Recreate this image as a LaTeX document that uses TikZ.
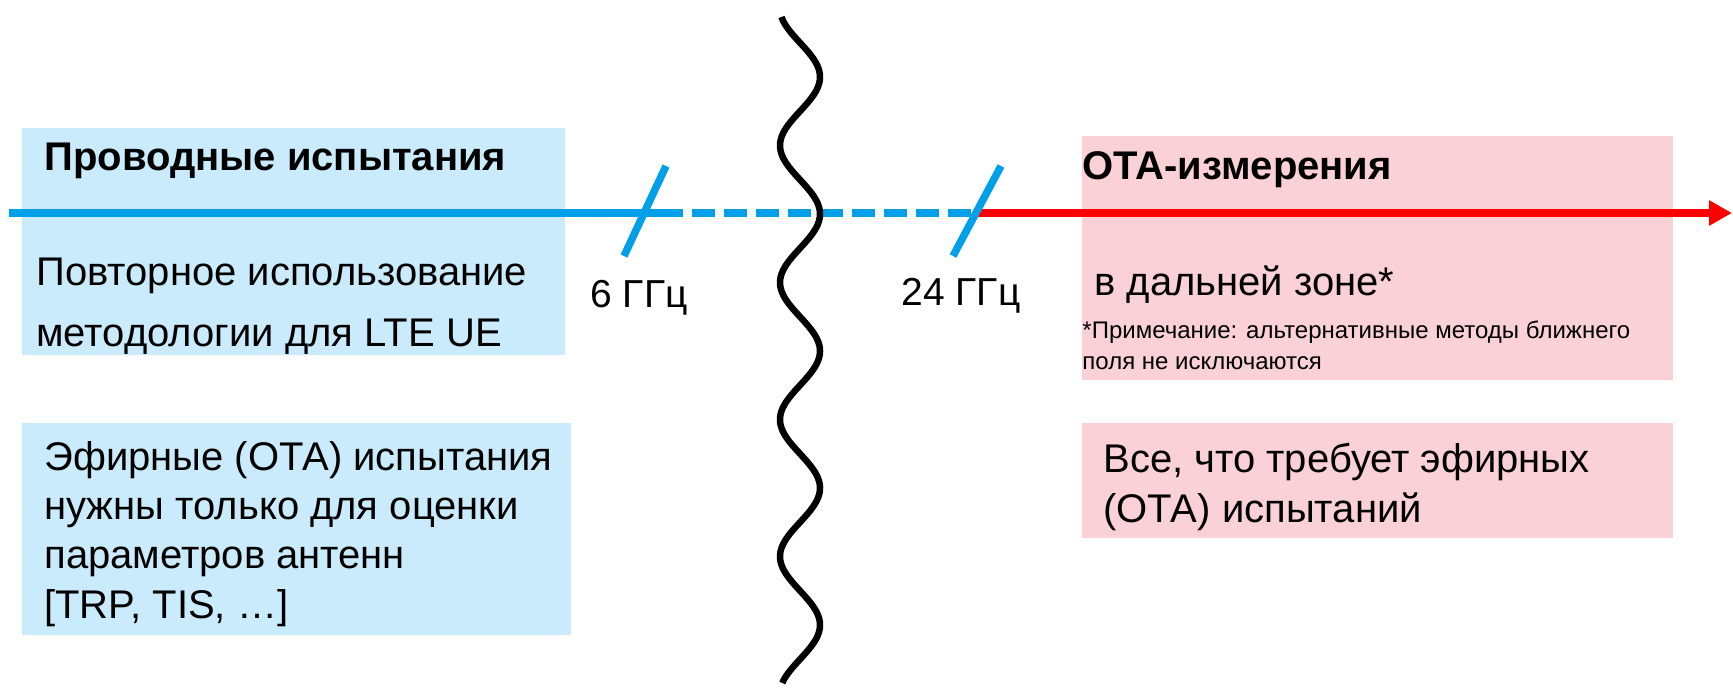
\documentclass[tikz,border=0pt]{standalone}
\usepackage{fontspec}
\setmainfont{Liberation Sans}
\usetikzlibrary{arrows.meta}
\definecolor{lineblue}{RGB}{0,160,233}
\definecolor{boxblue}{RGB}{201,235,251}
\definecolor{boxpink}{RGB}{250,209,214}
\definecolor{linered}{RGB}{255,0,0}
\begin{document}
\begin{tikzpicture}[x=0.5pt,y=-0.5pt,
  bluebox/.style={fill=boxblue,draw=none,anchor=north west,inner sep=0pt},
  pinkbox/.style={fill=boxpink,draw=none,anchor=north west,inner sep=0pt},
  txt/.style={anchor=west,inner sep=0pt,align=left,font=\fontsize{20}{24.6}\selectfont},
  ttl/.style={anchor=west,inner sep=0pt,font=\fontsize{20}{24}\selectfont\bfseries},
  note/.style={anchor=west,inner sep=0pt,align=left,font=\fontsize{12}{15.5}\selectfont},
  freq/.style={anchor=center,inner sep=0pt,font=\fontsize{19.5}{24}\selectfont},
  bline/.style={draw=lineblue,line width=3.75pt},
  rline/.style={draw=linered,line width=3.75pt},
  wave/.style={draw=black,line width=3.25pt}
]
\useasboundingbox (0,0) rectangle (1733,691);
% boxes
\node[bluebox,minimum width=271.5pt,minimum height=113.5pt] (b1) at (22,128) {};
\node[bluebox,minimum width=274.5pt,minimum height=106pt] (b2) at (22,423) {};
\node[pinkbox,minimum width=295.5pt,minimum height=122pt] (p1) at (1082,136) {};
\node[pinkbox,minimum width=295.5pt,minimum height=57.5pt] (p2) at (1082,423) {};
% main line
\coordinate (start) at (9,213);
\coordinate (s1) at (644,213);
\coordinate (d0) at (660,213);
\coordinate (s2) at (976,213);
\coordinate (tip) at (1732,213);
\draw[bline] (start) -- (d0);
\draw[bline,dash pattern=on 11.5pt off 4.5pt] (d0) -- (s2);
\draw[rline,-{Triangle[length=11.5pt,width=12pt]}] (s2) -- (tip);
% slashes
\coordinate (s1a) at (624,256);
\coordinate (s1b) at (666,166);
\coordinate (s2a) at (953,256);
\coordinate (s2b) at (1001,166);
\draw[bline] (s1a) -- (s1b);
\draw[bline] (s2a) -- (s2b);
% wave
\draw[wave] plot[domain=17:683,samples=260,smooth] ({800+20*cos(2.62774*(\x-77))},{\x});
% texts
\node[ttl] (t1) at (44,161) {Проводные испытания};
\node[txt,font=\fontsize{20}{30.5}\selectfont] (t2) at (36,306) {Повторное использование\\методологии для LTE UE};
\node[txt] (t3) at (44,534) {Эфирные (ОТА) испытания\\нужны только для оценки\\параметров антенн\\{[}TRP, TIS, …]};
\node[freq] (g6) at (639,298) {6 ГГц};
\node[freq] (g24) at (961,296) {24 ГГц};
\node[ttl] (t4) at (1082,170) {ОТА-измерения};
\node[txt] (t5) at (1094,285) {в дальней зоне*};
\node[note] (t6) at (1082,345) {*Примечание: альтернативные методы ближнего\\поля не исключаются};
\node[txt] (t7) at (1103,487) {Все, что требует эфирных\\(ОТА) испытаний};
\end{tikzpicture}
\end{document}
